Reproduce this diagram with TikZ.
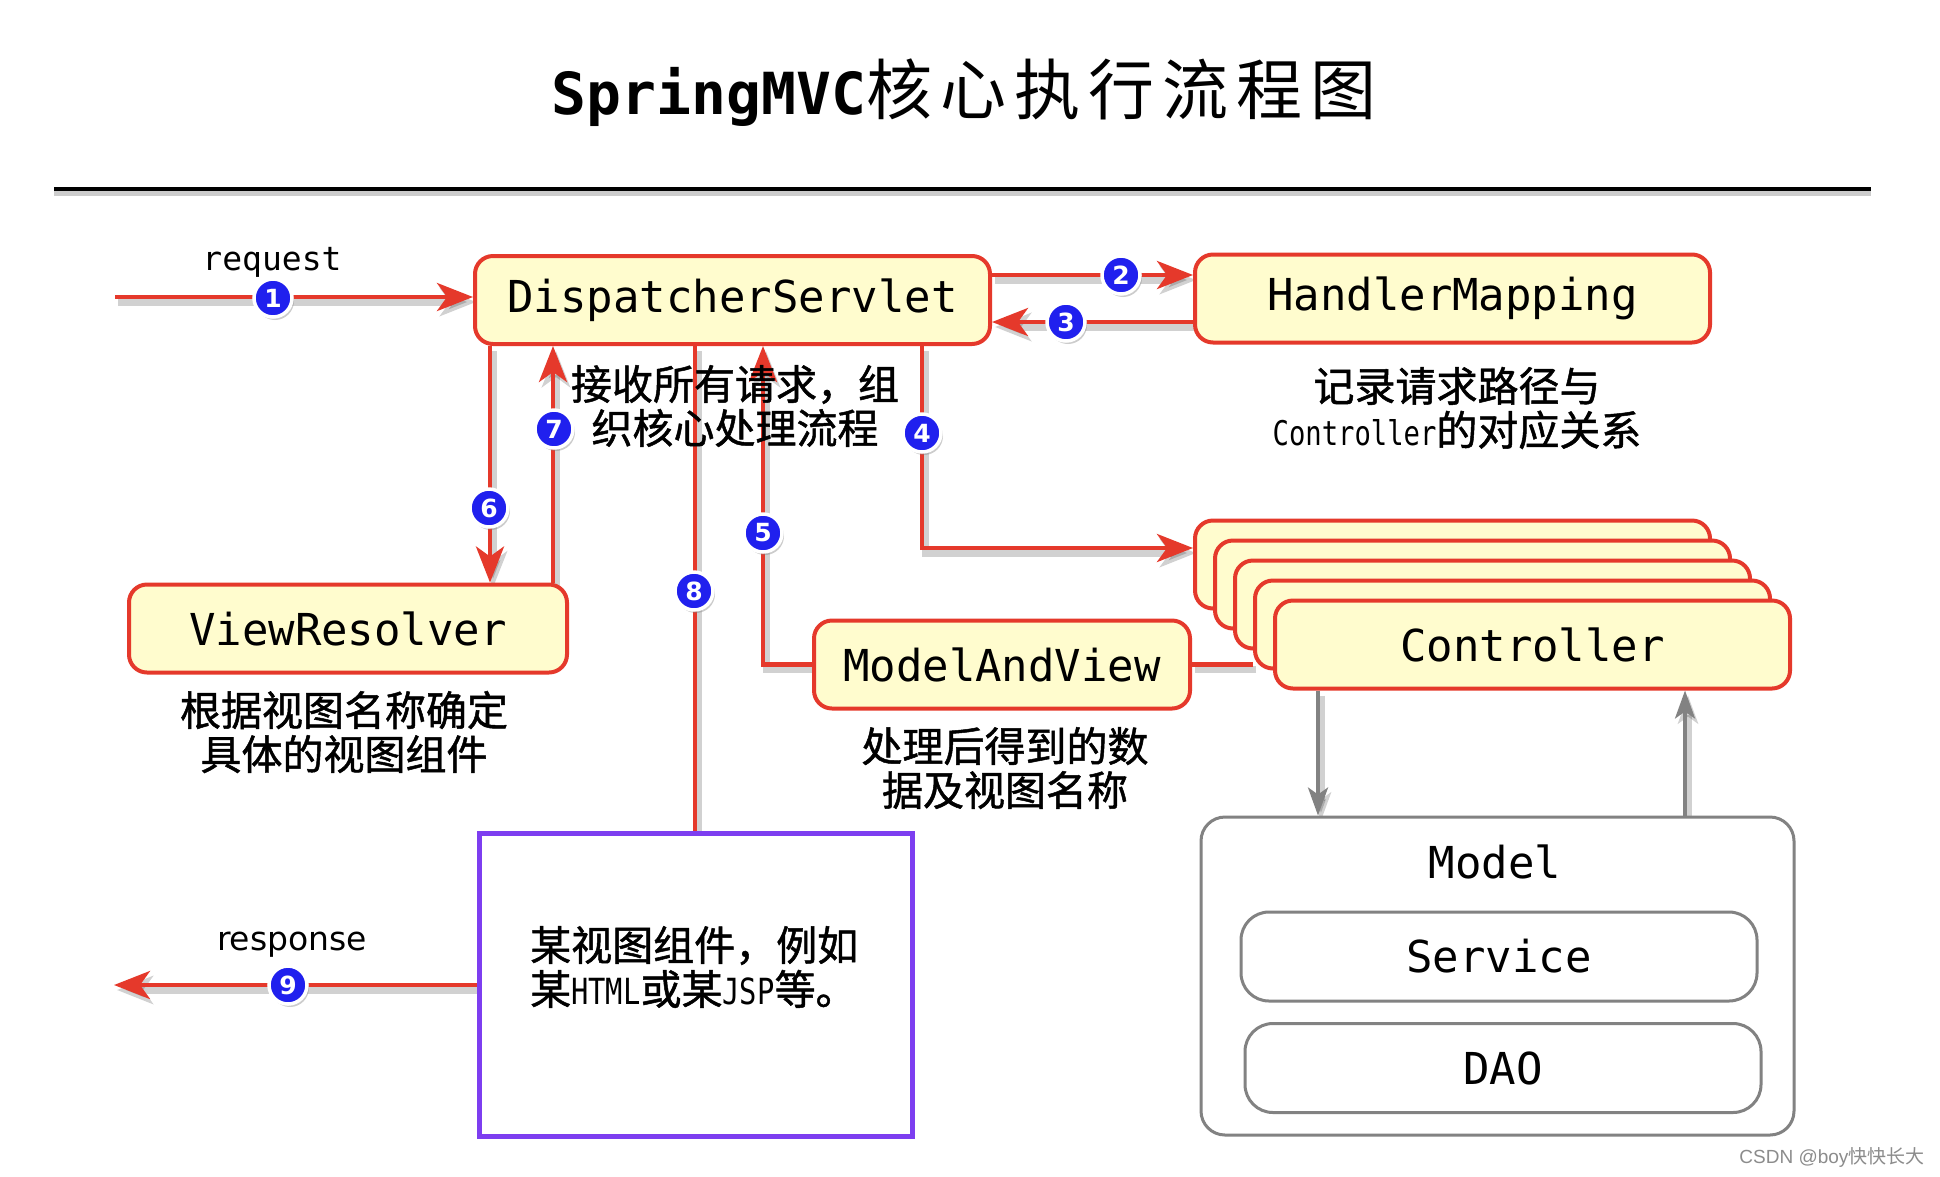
\documentclass[tikz,border=0pt]{standalone}
\usepackage{fontspec}
\setmainfont{DejaVu Sans Mono}
\newfontfamily\mono{DejaVu Sans Mono}
\newfontfamily\monon[FakeStretch=0.8]{DejaVu Sans Mono}
\newfontfamily\cjk{Noto Sans CJK SC}
\newfontfamily\cjkb[FakeBold=1.2]{Noto Sans CJK SC}
\newfontfamily\dvsans{DejaVu Sans}
\newfontfamily\lsans{Liberation Sans}
\usetikzlibrary{arrows.meta,shadows}
\pgfdeclarelayer{bg}
\pgfdeclarelayer{paper}
\pgfsetlayers{paper,bg,main}
\definecolor{lred}{RGB}{229,57,43}
\definecolor{boxfill}{RGB}{255,252,206}
\definecolor{bblue}{RGB}{32,32,238}
\definecolor{vpurple}{RGB}{125,62,240}
\definecolor{mgray}{RGB}{130,130,130}
\begin{document}
\begin{tikzpicture}[x=1pt,y=-1pt,
  redbox/.style={draw=lred, fill=boxfill, line width=4pt, rounded corners=18pt, minimum width=515pt, minimum height=88pt, inner sep=0pt, font=\mono\fontsize{44}{50}\selectfont},
  graybox/.style={draw=mgray, fill=white, line width=3pt, rounded corners=28pt, minimum width=516pt, minimum height=89pt, inner sep=0pt, font=\mono\fontsize{44}{50}\selectfont},
  lshadow/.style={preaction={draw=black, opacity=0.18, line width=7pt, transform canvas={shift={(3pt,-5pt)}}}},
  redline/.style={draw=lred, line width=4.5pt, lshadow},
  redarrow/.style={redline, -{Stealth[length=36pt,width=28pt,inset=10pt]}},
  grayarrow/.style={draw=mgray, line width=3.5pt, -{Stealth[length=28pt,width=20pt,inset=7pt]}, lshadow},
  badge/.style={circle, fill=bblue, draw=white, line width=3.5pt, minimum size=38pt, inner sep=0pt, text=white, font=\dvsans\bfseries\fontsize{25}{25}\selectfont, drop shadow={shadow xshift=2pt, shadow yshift=-3pt, opacity=0.4}},
  captext/.style={font=\cjkb\fontsize{41}{44}\selectfont, align=center, inner sep=0pt},
]
\begin{pgfonlayer}{paper}
\fill[white] (0,0) rectangle (1940,1176);
\end{pgfonlayer}
\useasboundingbox (0,0) rectangle (1940,1176);

% title and rule
\node[inner sep=0pt] (title) at (964,93) {{\mono\bfseries\fontsize{58}{70}\selectfont SpringMVC}{\cjk\fontsize{66}{70}\selectfont 核\hspace{8pt}心\hspace{8pt}执\hspace{8pt}行\hspace{8pt}流\hspace{8pt}程\hspace{8pt}图}};
\coordinate (ruleL) at (54,189);
\coordinate (ruleR) at (1871,189);
\draw[black, opacity=0.2, line width=6pt] ([yshift=-4pt]ruleL) -- ([yshift=-4pt]ruleR);
\draw[black, line width=4pt] (ruleL) -- (ruleR);

% boxes
\node[redbox] (ds) at (732.5,300) {DispatcherServlet};
\node[redbox] (hm) at (1452.5,298.5) {HandlerMapping};
\node[redbox, minimum width=438pt] (vr) at (348,628.5) {ViewResolver};
\node[redbox, minimum width=376pt] (mav) at (1002,664.5) {ModelAndView};
\foreach \i in {0,...,3} {
  \node[redbox] (c\i) at ({1452.5+20*\i},{564.5+20*\i}) {};
}
\node[redbox] (c4) at (1532.5,644.5) {Controller};

\node[graybox, minimum width=593pt, minimum height=318pt, rounded corners=24pt] (model) at (1497.5,976) {};
\node[font=\mono\fontsize{44}{50}\selectfont] (modellbl) at (1495,862) {Model};
\node[graybox] (service) at (1499,956.5) {Service};
\node[graybox] (dao) at (1503,1068) {DAO};

\node[draw=vpurple, fill=white, line width=5pt, minimum width=433pt, minimum height=303pt, inner sep=0pt] (view) at (695.5,984.5) {};

% helper coordinates
\coordinate (y275) at (0,275);
\coordinate (y322) at (0,322);
\coordinate (y548) at (0,548);
\coordinate (y985) at (0,985);
\coordinate (x490) at (490,0);
\coordinate (x553) at (553,0);
\coordinate (x695) at (695,0);
\coordinate (x763) at (763,0);
\coordinate (x922) at (922,0);
\coordinate (x1318) at (1318,0);
\coordinate (x1685) at (1685,0);
\coordinate (reqstart) at (115,297);
\coordinate (respend) at (114,985);

% connectors
\begin{pgfonlayer}{bg}
\draw[redarrow] (reqstart) -- (ds.west |- reqstart);
\draw[redarrow] (ds.east |- y275) -- (hm.west |- y275);
\draw[redarrow] (hm.west |- y322) -- (ds.east |- y322);
\draw[redarrow] (ds.south -| x922) |- (c0.west |- y548);
\draw[redline] (c3.west |- mav.east) -- (mav.east);
\draw[redarrow] (mav.west) -| (ds.south -| x763);
\draw[redarrow] (ds.south -| x490) -- (vr.north -| x490);
\draw[redarrow] (vr.north -| x553) -- (ds.south -| x553);
\draw[redline] (ds.south -| x695) -- (view.north -| x695);
\draw[redarrow] (view.west |- y985) -- (respend);
\draw[grayarrow] (c4.south -| x1318) -- (model.north -| x1318);
\draw[grayarrow] (model.north -| x1685) -- (c4.south -| x1685);
\end{pgfonlayer}

% labels
\node[font=\mono\fontsize{33}{36}\selectfont] (reqlbl) at (272,262) {request};
\node[font=\dvsans\fontsize{33}{36}\selectfont] (resplbl) at (292,945) {response};
\node[captext] (dscap) at (735,406) {接收所有请求，组\\织核心处理流程};
\node[captext] (hmcap) at (1457,408) {记录请求路径与\\{\monon\fontsize{34}{44}\selectfont Controller}的对应关系};
\node[captext] (vrcap) at (344,732) {根据视图名称确定\\具体的视图组件};
\node[captext] (mavcap) at (1005,768) {处理后得到的数\\据及视图名称};
\node[captext, align=left, anchor=west] (viewtxt) at (530,967) {某视图组件，例如\\某{\monon\fontsize{36}{44}\selectfont HTML}或某{\monon\fontsize{36}{44}\selectfont JSP}等。};

% badges
\node[badge] (b1) at (273,298) {1};
\node[badge] (b2) at (1121,275) {2};
\node[badge] (b3) at (1066,322) {3};
\node[badge] (b4) at (922,433) {4};
\node[badge] (b5) at (763,533) {5};
\node[badge] (b6) at (489,508) {6};
\node[badge] (b7) at (554,429) {7};
\node[badge] (b8) at (694,591) {8};
\node[badge] (b9) at (288,985) {9};

\node[anchor=east, text=black!45, font=\lsans\fontsize{19}{22}\selectfont] (wm) at (1928,1157) {CSDN @boy{\cjk 快快长大}};
\end{tikzpicture}
\end{document}
